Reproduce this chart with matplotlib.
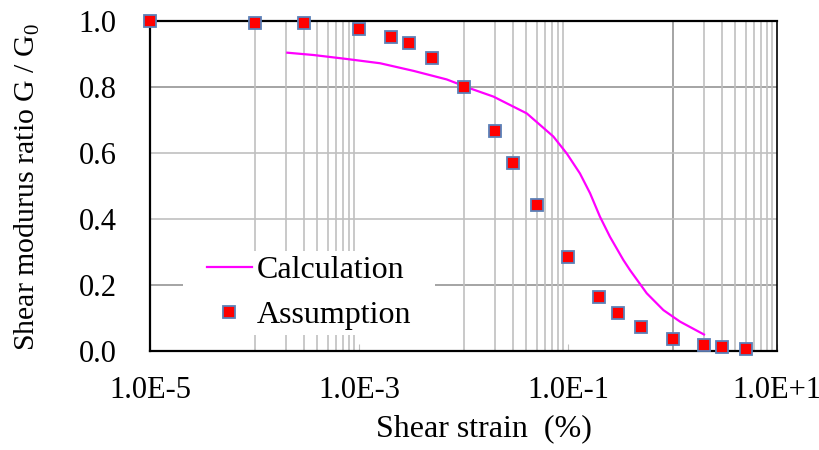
import numpy as np
import matplotlib.pyplot as plt
from matplotlib.path import Path

plt.rcParams['font.family'] = ['Liberation Serif', 'DejaVu Serif']
plt.rcParams['mathtext.fontset'] = 'custom'
plt.rcParams['mathtext.rm'] = 'Liberation Serif'

# Assumed G/G0 curve (markers)
strain_assume = [1e-5, 1e-4, 3e-4, 1e-3, 2e-3, 3e-3, 5e-3, 1e-2, 2e-2, 3e-2,
                 5e-2, 0.1, 0.2, 0.3, 0.5, 1.0, 2.0, 3.0, 5.0]
ratio_assume = [1.0, 0.995, 0.993, 0.975, 0.951, 0.932, 0.889, 0.800, 0.667, 0.571,
                0.442, 0.284, 0.164, 0.116, 0.074, 0.036, 0.018, 0.013, 0.006]

# Calculated curve (line)
strain_calc = [2.06e-4, 3.66e-4, 7.6e-4, 1.59e-3, 3.31e-3, 6.9e-3, 1.15e-2, 1.93e-2,
               4.03e-2, 5.4e-2, 7.23e-2, 9.7e-2, 0.130, 0.1625, 0.202, 0.252,
               0.338, 0.392, 0.566, 0.817, 1.18, 2.0]
ratio_calc = [0.904, 0.897, 0.885, 0.872, 0.849, 0.823, 0.796, 0.771,
              0.720, 0.685, 0.650, 0.599, 0.538, 0.478, 0.407, 0.346,
              0.276, 0.245, 0.175, 0.124, 0.089, 0.050]

x_ticks = [1e-5, 1e-3, 1e-1, 1e1]
x_ticklabels = ["1.0E-5", "1.0E-3", "1.0E-1", "1.0E+1"]
y_ticks = [0.0, 0.2, 0.4, 0.6, 0.8, 1.0]


def wide_box(x0, y0, width, height, mutation_size):
    # legend background: wider on the sides than above/below
    dx = 0.6 * mutation_size
    return Path([(x0 - dx, y0), (x0 + width + dx, y0), (x0 + width + dx, y0 + height),
                 (x0 - dx, y0 + height), (x0 - dx, y0)], closed=True)


fig = plt.figure(figsize=(8.2, 4.5), dpi=100)
ax = fig.add_axes([0.183, 0.22, 0.7646, 0.7333])

ax.set_xscale('log')
ax.set_xlim(1e-5, 1e1)
ax.set_ylim(0, 1.0)

# grid: minor lines only in every second decade
minor = [k * 10.0 ** d for d in (-4, -2, 0) for k in range(1, 10)]
ax.set_xticks(minor, minor=True)
ax.set_xticklabels([], minor=True)
ax.tick_params(axis='x', which='minor', length=0)
ax.grid(True, which='minor', axis='x', color='#c0c0c0', lw=1.2, zorder=0)
ax.set_yticks(y_ticks)
ax.set_yticklabels(["%.1f" % v for v in y_ticks])
ax.grid(True, which='major', axis='y', color='#c0c0c0', lw=1.2, zorder=0)
ax.axvline(1.0, color='black', lw=1.2, zorder=0.5)
for yv in (0.2, 0.8):
    ax.axhline(yv, color='black', lw=1.2, zorder=0.5)

ax.set_xticks(x_ticks)
ax.set_xticklabels(x_ticklabels)
ax.tick_params(axis='x', which='major', direction='in', length=5, color='#c0c0c0',
               labelsize=22, pad=18)
ax.tick_params(axis='y', length=0, labelsize=22, pad=24)

ax.plot(strain_calc, ratio_calc, color='#ff00ff', lw=1.6, label='Calculation', zorder=3)
ax.plot(strain_assume, ratio_assume, ls='none', marker='s', ms=8.5,
        mfc='#ff0000', mec='#5b80b8', mew=1.3, label='Assumption', zorder=4,
        clip_on=False)

for side in ('left', 'bottom', 'top'):
    ax.spines[side].set_linewidth(1.6)
ax.spines['right'].set_linewidth(1.2)

ax.set_ylabel("Shear modurus ratio G / G$_0$", fontsize=21.5)
ax.yaxis.set_label_coords(-0.172, 0.497)
ax.set_xlabel("Shear strain  (%)", fontsize=23)
ax.xaxis.set_label_coords(0.533, -0.192)

leg = ax.legend(loc='lower left', bbox_to_anchor=(0.083, 0.048), fontsize=23,
                frameon=True, facecolor='white', edgecolor='none', framealpha=1,
                handlelength=1.4, handletextpad=0.15, borderpad=0.15,
                labelspacing=0.5, borderaxespad=0)
leg.get_frame().set_boxstyle(wide_box)
leg.set_zorder(2)

fig.savefig('out.png', dpi=100)
